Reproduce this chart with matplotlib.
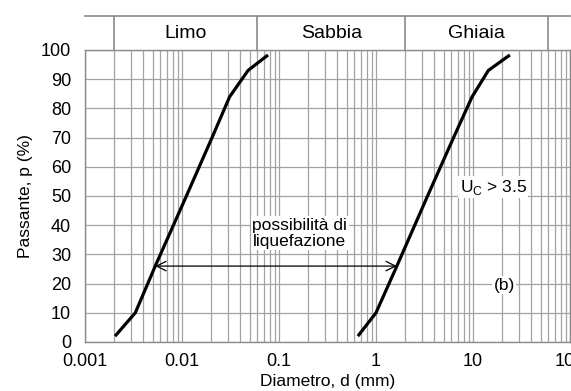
import numpy as np
import matplotlib
matplotlib.use('Agg')
import matplotlib.pyplot as plt
from matplotlib.ticker import LogLocator, NullFormatter

plt.rcParams['font.family'] = ['Liberation Sans', 'DejaVu Sans']
plt.rcParams['font.size'] = 12.5

# curva granulometrica fine (sinistra) e grossa (destra)
fine_d = [0.00204, 0.0033, 0.0053, 0.0111, 0.0204, 0.031, 0.048, 0.077]
fine_p = [2, 10, 26, 50, 70, 84, 93, 98.3]
coarse_d = [0.65, 1.0, 1.64, 3.4, 6.3, 9.8, 14.4, 24]
coarse_p = [2, 10, 26, 50, 70, 84, 93, 98.3]

x_ticks = [0.001, 0.01, 0.1, 1, 10, 100]
x_ticklabels = ['0.001', '0.01', '0.1', '1', '10', '100']
y_ticks = list(range(0, 101, 10))

classes = ['Limo', 'Sabbia', 'Ghiaia']
class_bounds = [0.002, 0.06, 2, 60]

arrow_p = 26

GRID = '#a3a3a3'
FRAME = '#8a8a8a'

W, H = 571, 391
fig = plt.figure(figsize=(W / 100, H / 100), dpi=100)

left, right = 85 / W, 570 / W
bottom, top = 1 - 342 / H, 1 - 50 / H
ax = fig.add_axes([left, bottom, right - left, top - bottom])

ax.set_xscale('log')
ax.set_xlim(0.001, 100)
ax.set_ylim(0, 100)

ax.xaxis.set_minor_locator(LogLocator(base=10, subs=np.arange(2, 10)))
ax.xaxis.set_minor_formatter(NullFormatter())
ax.set_xticks(x_ticks)
ax.set_xticklabels(x_ticklabels)
ax.set_yticks(y_ticks)

ax.grid(which='both', axis='x', color=GRID, lw=0.9)
ax.grid(which='major', axis='y', color=GRID, lw=0.9)
ax.set_axisbelow(True)
ax.tick_params(which='both', length=0, labelsize=13)
ax.tick_params(axis='x', pad=8)
ax.tick_params(axis='y', pad=10)
for sp in ax.spines.values():
    sp.set_color(FRAME)
    sp.set_linewidth(1.0)

ax.plot(fine_d, fine_p, color='black', lw=2.3, solid_capstyle='butt',
        solid_joinstyle='round')
ax.plot(coarse_d, coarse_p, color='black', lw=2.3, solid_capstyle='butt',
        solid_joinstyle='round')

# freccia tra le due curve
d_left = 10 ** np.interp(arrow_p, fine_p, np.log10(fine_d))
d_right = 10 ** np.interp(arrow_p, coarse_p, np.log10(coarse_d))
ax.annotate('', xy=(d_left, arrow_p), xytext=(d_right, arrow_p),
            arrowprops=dict(arrowstyle='<->', color='black', lw=0.9,
                            shrinkA=0, shrinkB=0, mutation_scale=17))

box = dict(facecolor='white', edgecolor='none', pad=1)
ax.text(0.164, 37.2, 'possibilità di\nliquefazione', ha='center', va='center',
        linespacing=1.1, fontsize=12.5, bbox=box)
ax.text(7.3, 53, r'U$_\mathregular{C}$ > 3.5', ha='left', va='center',
        fontsize=12.5, bbox=box)
ax.text(21, 19.5, '(b)', ha='center', va='center', fontsize=12.5, bbox=box)

ax.set_xlabel('Diametro, d (mm)', labelpad=3)
ax.set_ylabel('Passante, p (%)', labelpad=6)

# intestazione classi granulometriche
hx = fig.add_axes([left, top, right - left, (50 - 16) / H])
hx.set_xscale('log')
hx.set_xlim(0.001, 100)
hx.set_ylim(0, 1)
hx.axis('off')
hx.axhline(1, color=FRAME, lw=1.2, clip_on=False)
for b in class_bounds:
    hx.axvline(b, color=FRAME, lw=1.2)
for name, a, b in zip(classes, class_bounds[:-1], class_bounds[1:]):
    hx.text(np.sqrt(a * b), 0.5, name, ha='center', va='center', fontsize=14)

fig.savefig('out.png', dpi=100)
